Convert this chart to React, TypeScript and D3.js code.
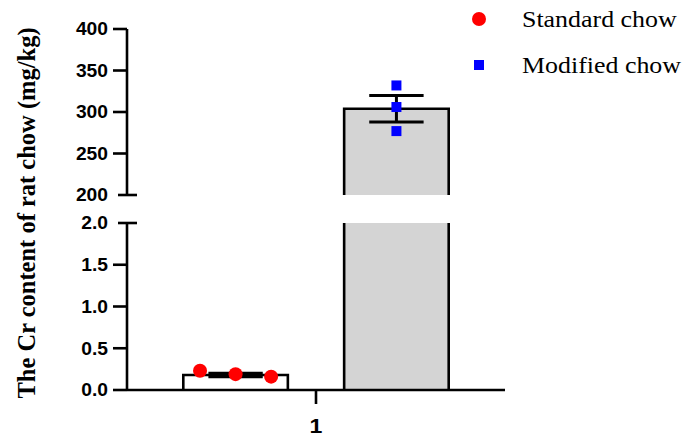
import React, { useRef, useEffect } from 'react';
import * as d3 from 'd3';

const groups = ['Standard chow', 'Modified chow'];
const means = [0.18, 304];
const sems = [0.02, 16];
const points = [
  [0.23, 0.19, 0.16],
  [332, 306, 277],
];
const colors = ['#ff0000', '#0000ff'];
const fills = ['#ffffff', '#d4d4d4'];
const lowTicks = [0, 0.5, 1.0, 1.5, 2.0];
const highTicks = [200, 250, 300, 350, 400];
const xLabel = '1';
const yTitle = 'The Cr content of rat chow (mg/kg)';

const App = () => {
  const ref = useRef<SVGSVGElement>(null);

  useEffect(() => {
    const svg = d3.select(ref.current);
    svg.selectAll('*').remove();

    const width = 688;
    const height = 437;
    svg.attr('width', width).attr('height', height);

    const axisX = 127;
    const axisRight = 505;

    // two stacked y segments for the broken axis
    const yLow = d3.scaleLinear().domain([0, 2]).range([390, 223]);
    const yHigh = d3.scaleLinear().domain([200, 400]).range([195, 29]);

    const x = d3
      .scaleBand()
      .domain(groups)
      .range([axisX, axisRight])
      .paddingInner(0.35)
      .paddingOuter(0.35);

    const sw = 2.6;
    const g = svg.append('g');

    // bars, clipped per segment
    groups.forEach((grp, i) => {
      const x0 = x(grp)!;
      const x1 = x0 + x.bandwidth();
      const m = means[i];
      const segs: [d3.ScaleLinear<number, number>, number, number][] = [
        [yLow, 0, 2],
        [yHigh, 200, 400],
      ];
      segs.forEach(([sc, lo, hi]) => {
        if (m <= lo) return;
        const top = Math.min(m, hi);
        const yt = sc(top);
        const yb = sc(lo);
        g.append('rect')
          .attr('x', x0)
          .attr('y', yt)
          .attr('width', x1 - x0)
          .attr('height', yb - yt)
          .attr('fill', fills[i]);
        const path = d3.path();
        path.moveTo(x0, yb);
        if (m <= hi) {
          path.lineTo(x0, yt);
          path.lineTo(x1, yt);
        } else {
          path.lineTo(x0, yt);
          path.moveTo(x1, yt);
        }
        path.lineTo(x1, yb);
        g.append('path')
          .attr('d', path.toString())
          .attr('fill', 'none')
          .attr('stroke', '#000')
          .attr('stroke-width', sw);
      });
    });

    const yOf = (v: number) => (v > 2 ? yHigh(v) : yLow(v));

    // error bars
    groups.forEach((grp, i) => {
      const cx = x(grp)! + x.bandwidth() / 2;
      const capW = x.bandwidth() * 0.26;
      const yTop = yOf(means[i] + sems[i]);
      const yBot = yOf(means[i] - sems[i]);
      g.append('line')
        .attr('x1', cx).attr('x2', cx)
        .attr('y1', yTop).attr('y2', yBot)
        .attr('stroke', '#000').attr('stroke-width', 3);
      [yTop, yBot].forEach((yy) => {
        g.append('line')
          .attr('x1', cx - capW).attr('x2', cx + capW)
          .attr('y1', yy).attr('y2', yy)
          .attr('stroke', '#000').attr('stroke-width', 3);
      });
    });

    // scatter points; spread sideways when they would overlap
    groups.forEach((grp, i) => {
      const cx = x(grp)! + x.bandwidth() / 2;
      const ys = points[i].map(yOf);
      const crowded = d3.max(d3.pairs(ys.slice().sort(d3.ascending)), ([a, b]) => b - a)! < 14;
      const spread = crowded ? x.bandwidth() * 0.34 : 0;
      points[i].forEach((v, j) => {
        const px = cx + (j - (points[i].length - 1) / 2) * spread;
        const py = yOf(v);
        if (i === 0) {
          g.append('circle').attr('cx', px).attr('cy', py).attr('r', 7).attr('fill', colors[i]);
        } else {
          g.append('rect')
            .attr('x', px - 5).attr('y', py - 5)
            .attr('width', 10).attr('height', 10)
            .attr('fill', colors[i]);
        }
      });
    });

    // y axis segments
    const axisG = svg.append('g').attr('stroke', '#000').attr('stroke-width', sw);
    axisG.append('line').attr('x1', axisX).attr('x2', axisX).attr('y1', yLow(0)).attr('y2', yLow(2));
    axisG.append('line').attr('x1', axisX).attr('x2', axisX).attr('y1', yHigh(200)).attr('y2', yHigh(400));
    // break marks
    axisG.append('line').attr('x1', axisX - 9).attr('x2', axisX + 10).attr('y1', yLow(2)).attr('y2', yLow(2));
    axisG.append('line').attr('x1', axisX - 9).attr('x2', axisX + 10).attr('y1', yHigh(200)).attr('y2', yHigh(200));

    const tickFont = 'Arial, "Liberation Sans", sans-serif';
    const drawTicks = (sc: d3.ScaleLinear<number, number>, ticks: number[], fmt: (v: number) => string, breakTick: number) => {
      ticks.forEach((t) => {
        if (t !== breakTick) {
          axisG.append('line').attr('x1', axisX - 14).attr('x2', axisX).attr('y1', sc(t)).attr('y2', sc(t));
        }
        svg.append('text')
          .attr('transform', `translate(108,${sc(t)}) scale(1.1,1)`)
          .attr('dy', '0.36em')
          .attr('text-anchor', 'end')
          .attr('font-family', tickFont)
          .attr('font-weight', 'bold')
          .attr('font-size', 17.5)
          .text(fmt(t));
      });
    };
    drawTicks(yLow, lowTicks, d3.format('.1f'), 2);
    drawTicks(yHigh, highTicks, d3.format('d'), 200);

    // x axis
    axisG.append('line').attr('x1', axisX).attr('x2', axisRight).attr('y1', yLow(0)).attr('y2', yLow(0));
    const midX = (axisX + axisRight) / 2;
    axisG.append('line').attr('x1', midX).attr('x2', midX).attr('y1', yLow(0)).attr('y2', yLow(0) + 14);
    svg.append('text')
      .attr('transform', `translate(${midX},433) scale(1.1,1)`)
      .attr('text-anchor', 'middle')
      .attr('font-family', tickFont)
      .attr('font-weight', 'bold')
      .attr('font-size', 21)
      .text(xLabel);

    // y title
    svg.append('text')
      .attr('transform', `translate(35,${(29 + 397) / 2}) rotate(-90)`)
      .attr('text-anchor', 'middle')
      .attr('font-family', '"Times New Roman", "Liberation Serif", serif')
      .attr('font-weight', 'bold')
      .attr('font-size', 24.5)
      .text(yTitle);

    // legend
    const legend = svg.append('g').attr('transform', 'translate(479,0)');
    groups.forEach((grp, i) => {
      const ly = 19 + i * 46;
      if (i === 0) {
        legend.append('circle').attr('cx', 0).attr('cy', ly).attr('r', 7).attr('fill', colors[i]);
      } else {
        legend.append('rect').attr('x', -5).attr('y', ly - 5).attr('width', 10).attr('height', 10).attr('fill', colors[i]);
      }
      legend.append('text')
        .attr('transform', `translate(43,${ly + 8}) scale(1.08,1)`)
        .attr('font-family', '"Times New Roman", "Liberation Serif", serif')
        .attr('font-size', 24)
        .text(grp);
    });
  }, []);

  return <svg ref={ref} style={{ position: 'absolute', left: 0, top: 0 }}></svg>;
};

export default App;
